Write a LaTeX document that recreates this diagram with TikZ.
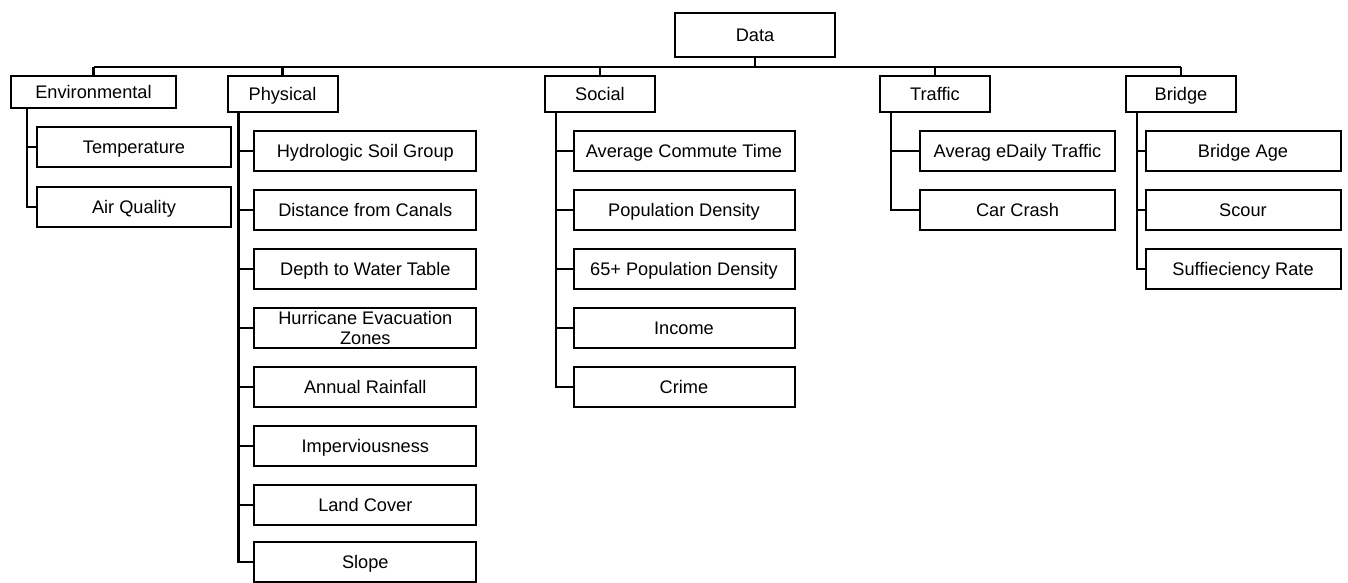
\documentclass[tikz,border=0pt]{standalone}
\usepackage{fontspec}
\setmainfont{Liberation Sans}
\begin{document}
\begin{tikzpicture}[x=1pt,y=1pt,
  base/.style={draw, line width=2pt, inner sep=0pt, align=center,
    font=\fontsize{18.2}{20}\selectfont, minimum height=40pt},
  box/.style={base, text height=13pt, text depth=0pt},
  cat/.style={box, minimum width=110pt, minimum height=36pt},
  leafE/.style={box, minimum width=194pt},
  leafP/.style={box, minimum width=222pt},
  leafS/.style={box, minimum width=221pt},
  leafT/.style={box, minimum width=195pt},
  link/.style={line width=2.3pt}]
\useasboundingbox (0,0) rectangle (1348,-583);

% root and categories
\node[box, minimum width=160pt, minimum height=44pt] (data) at (755,-34.7) {Data};
\node[box, minimum width=165pt, minimum height=32pt] (env) at (93.5,-92) {Environmental};
\node[cat] (phys) at (282.5,-94) {Physical};
\node[cat] (soc) at (600,-94) {Social};
\node[cat] (traf) at (935,-94) {Traffic};
\node[cat] (brid) at (1181,-94) {Bridge};

% environmental children
\node[leafE] (temp) at (134,-147.3) {Temperature};
\node[leafE] (air) at (134,-207) {Air Quality};

% physical children
\node[leafP] (hsg) at (365.3,-151) {Hydrologic Soil Group};
\node[leafP] (dfc) at (365.3,-210) {Distance from Canals};
\node[leafP] (dwt) at (365.3,-269) {Depth to Water Table};
\node[base, minimum width=222pt] (hez) at (365.3,-328) {Hurricane Evacuation\\Zones};
\node[leafP] (arf) at (365.3,-387) {Annual Rainfall};
\node[leafP] (imp) at (365.3,-446) {Imperviousness};
\node[leafP] (lc) at (365.3,-505) {Land Cover};
\node[leafP] (slp) at (365.3,-562) {Slope};

% social children
\node[leafS] (act) at (684,-151) {Average Commute Time};
\node[leafS] (pd) at (684,-210) {Population Density};
\node[leafS] (pd65) at (684,-269) {65+ Population Density};
\node[leafS] (inc) at (684,-328) {Income};
\node[leafS] (crm) at (684,-387) {Crime};

% traffic children
\node[leafT] (adt) at (1017.5,-151) {Averag eDaily Traffic};
\node[leafT] (cc) at (1017.5,-210) {Car Crash};

% bridge children
\node[leafT] (ba) at (1243,-151) {Bridge Age};
\node[leafT] (sc) at (1243,-210) {Scour};
\node[leafT] (sr) at (1243,-269) {Suffieciency Rate};

% bus and trunk coordinates
\coordinate (bus) at (0,-66.7);
\coordinate (envT) at (27.3,0);
\coordinate (physT) at (238.5,0);
\coordinate (socT) at (556,0);
\coordinate (trafT) at (890.7,0);
\coordinate (bridT) at (1136.7,0);

% top-level connectors
\draw[link] (data.south) -- (data.south |- bus);
\draw[link] (env.north |- bus) -- (brid.north |- bus);
\foreach \n in {env,phys,soc,traf,brid}
  \draw[link] (\n.north) -- (\n.north |- bus);

% child connectors
\foreach \c in {temp,air}
  \draw[link] (env.south -| envT) |- (\c.west);
\foreach \c in {hsg,dfc,dwt,hez,arf,imp,lc,slp}
  \draw[link] (phys.south -| physT) |- (\c.west);
\foreach \c in {act,pd,pd65,inc,crm}
  \draw[link] (soc.south -| socT) |- (\c.west);
\foreach \c in {adt,cc}
  \draw[link] (traf.south -| trafT) |- (\c.west);
\foreach \c in {ba,sc,sr}
  \draw[link] (brid.south -| bridT) |- (\c.west);
\end{tikzpicture}
\end{document}
